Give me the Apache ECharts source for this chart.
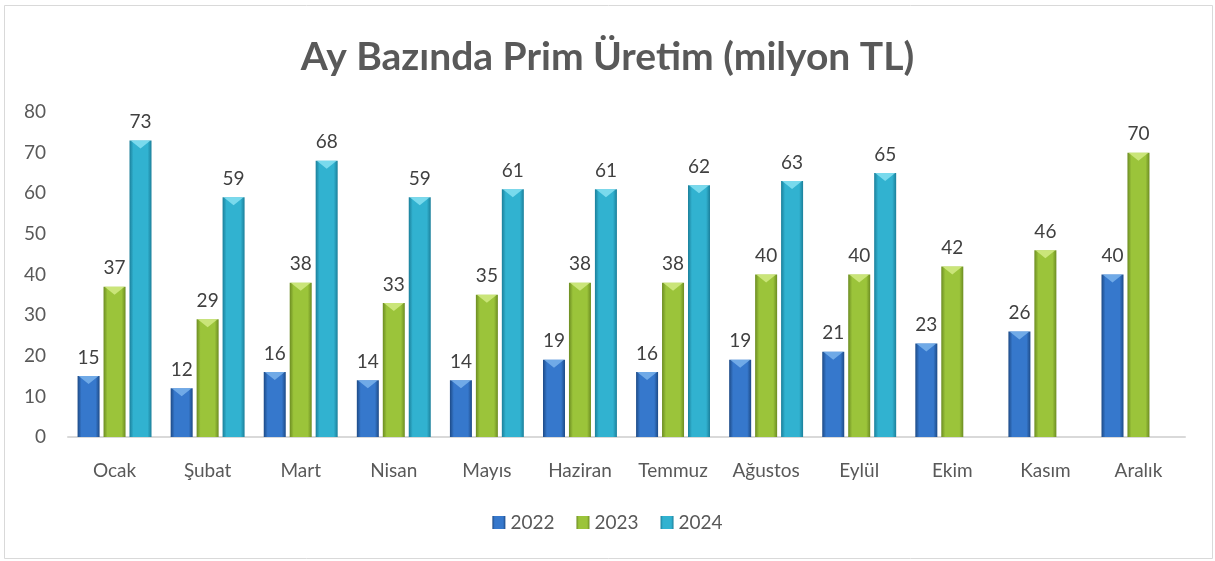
<!DOCTYPE html>
<html>
<head>
<meta charset="utf-8">
<script src="https://cdn.jsdelivr.net/npm/echarts@6/dist/echarts.min.js"></script>
<style>
  html, body { margin: 0; padding: 0; background: #fff; }
  #chart { width: 1215px; height: 561px; }
</style>
</head>
<body>
<div id="chart"></div>
<script>
var months = ['Ocak', 'Şubat', 'Mart', 'Nisan', 'Mayıs', 'Haziran', 'Temmuz', 'Ağustos', 'Eylül', 'Ekim', 'Kasım', 'Aralık'];
var years = ['2022', '2023', '2024'];
var v2022 = [15, 12, 16, 14, 14, 19, 16, 19, 21, 23, 26, 40];
var v2023 = [37, 29, 38, 33, 35, 38, 38, 40, 40, 42, 46, 70];
var v2024 = [73, 59, 68, 59, 61, 61, 62, 63, 65, null, null, null];
var yTicks = [0, 10, 20, 30, 40, 50, 60, 70, 80];

var chart = echarts.init(document.getElementById('chart'));

// edge, mid, highlight(top triangle)
var palette = [
    ['#1d4a86', '#3678cc', '#7fb6ee'],
    ['#6c8c22', '#9bc43a', '#d6ee8a'],
    ['#1b7f9a', '#31b2d0', '#8ce3f4']
];
var seriesData = [v2022, v2023, v2024];

function grad(c) {
    return new echarts.graphic.LinearGradient(0, 0, 1, 0, [
        {offset: 0, color: c[0]},
        {offset: 0.18, color: c[1]},
        {offset: 0.82, color: c[1]},
        {offset: 1, color: c[0]}
    ]);
}

var series = [];
for (var i = 0; i < 3; i++) {
    series.push({
        name: years[i],
        type: 'bar',
        barWidth: 22,
        barGap: '18%',
        data: seriesData[i],
        itemStyle: {color: grad(palette[i])},
        label: {
            show: true,
            position: 'top',
            distance: 9,
            color: '#404040',
            fontSize: 19,
            fontFamily: 'Lato'
        }
    });
}
for (var j = 0; j < 3; j++) {
    series.push({
        name: years[j] + '-top',
        type: 'pictorialBar',
        symbol: 'triangle',
        symbolRotate: 180,
        symbolSize: [20, 8],
        symbolPosition: 'end',
        barGap: '18%',
        barWidth: 22,
        z: 5,
        silent: true,
        itemStyle: {color: palette[j][2], opacity: 0.8},
        data: seriesData[j]
    });
}

var option = {
    backgroundColor: '#fff',
    animation: false,
    title: {
        text: 'Ay Bazında Prim Üretim (milyon TL)',
        left: 'center',
        top: 33,
        textStyle: {
            fontFamily: 'Lato',
            fontWeight: 'bold',
            fontSize: 39,
            color: '#595959'
        }
    },
    legend: {
        data: years,
        bottom: 24,
        left: 'center',
        itemWidth: 13,
        itemHeight: 13,
        itemGap: 22,
        textStyle: {fontFamily: 'Lato', fontSize: 19, color: '#595959'},
        icon: 'rect'
    },
    grid: {left: 68, right: 30, top: 112, bottom: 124},
    xAxis: {
        type: 'category',
        data: months,
        axisTick: {show: false},
        axisLine: {lineStyle: {color: '#d9d9d9', width: 2}},
        axisLabel: {fontFamily: 'Lato', fontSize: 19, color: '#595959', margin: 24}
    },
    yAxis: {
        type: 'value',
        min: yTicks[0],
        max: yTicks[yTicks.length - 1],
        interval: 10,
        splitLine: {show: false},
        axisLine: {show: false},
        axisTick: {show: false},
        axisLabel: {fontFamily: 'Lato', fontSize: 19, color: '#595959', margin: 22}
    },
    graphic: [{
        type: 'rect',
        shape: {x: 4.5, y: 5.5, width: 1208, height: 553},
        style: {fill: 'none', stroke: '#d9d9d9', lineWidth: 1},
        silent: true
    }],
    series: series
};
chart.setOption(option);
</script>
</body>
</html>
